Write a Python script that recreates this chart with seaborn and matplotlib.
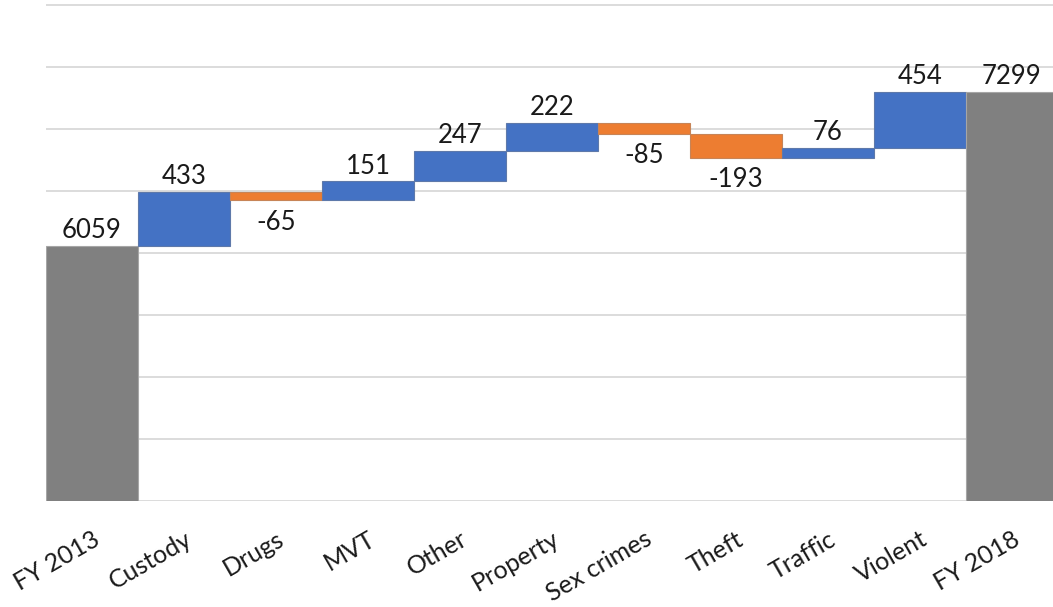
import matplotlib
matplotlib.use("Agg")
import matplotlib.pyplot as plt
import seaborn as sns
import numpy as np
import pandas as pd

# Waterfall: caseload change from FY 2013 to FY 2018 by offense category
categories = ["FY 2013", "Custody", "Drugs", "MVT", "Other", "Property",
              "Sex crimes", "Theft", "Traffic", "Violent", "FY 2018"]
start_total = 6059
changes = [433, -65, 151, 247, 222, -85, -193, 76, 454]
end_total = 7299

BLUE = "#4472C4"
ORANGE = "#ED7D31"
GRAY = "#808080"

sns.set_theme(style="white")
plt.rcParams["font.family"] = ["Lato", "DejaVu Sans"]

# Build bar bottoms/heights from the running total
bottoms, heights, colors, labels = [0], [start_total], [GRAY], [str(start_total)]
running = start_total
for c in changes:
    if c >= 0:
        bottoms.append(running)
        heights.append(c)
        colors.append(BLUE)
    else:
        bottoms.append(running + c)
        heights.append(-c)
        colors.append(ORANGE)
    labels.append(str(c))
    running += c
bottoms.append(0)
heights.append(end_total)
colors.append(GRAY)
labels.append(str(end_total))

df = pd.DataFrame({"category": categories, "height": heights, "bottom": bottoms})

fig = plt.figure(figsize=(10.53, 6.07), dpi=100)
ax = fig.add_axes([46 / 1053, 106 / 607, 1 - 46 / 1053, 1 - 106 / 607])

sns.barplot(data=df, x="category", y="height", order=categories,
            bottom=df["bottom"].to_numpy(), width=1.0, errorbar=None,
            color=GRAY, linewidth=0.8, ax=ax)

for patch, col in zip(ax.patches, colors):
    patch.set_facecolor(col)
    patch.set_edgecolor(sns.desaturate(col, 0.6) if col != GRAY else "#A6A6A6")
    patch.set_zorder(3)

ax.set_ylim(4000, 8040)
ax.set_xlim(-0.5, 10.446)
ax.set_yticks(np.arange(4000, 8001, 500))
ax.set_yticklabels([])
ax.yaxis.grid(True, color="#D9D9D9", linewidth=1.3, zorder=0)
ax.set_axisbelow(True)
for s in ax.spines.values():
    s.set_visible(False)
ax.set_xlabel("")
ax.set_ylabel("")
ax.tick_params(axis="y", length=0)
ax.tick_params(axis="x", length=0, pad=19, labelsize=18)
for t in ax.get_xticklabels():
    t.set_rotation(30)
    t.set_ha("right")
    t.set_rotation_mode("anchor")
    t.set_color("#1A1A1A")

# Value labels: above rising/total bars, below falling bars
for i, (b, h, lab) in enumerate(zip(bottoms, heights, labels)):
    if lab.startswith("-"):
        ax.annotate(lab, (i, b), xytext=(0, -7), textcoords="offset points",
                    ha="center", va="top", fontsize=18.5, color="#1A1A1A")
    else:
        ax.annotate(lab, (i, b + h), xytext=(0, 2), textcoords="offset points",
                    ha="center", va="bottom", fontsize=18.5, color="#1A1A1A")

fig.savefig("out.png", dpi=100)
